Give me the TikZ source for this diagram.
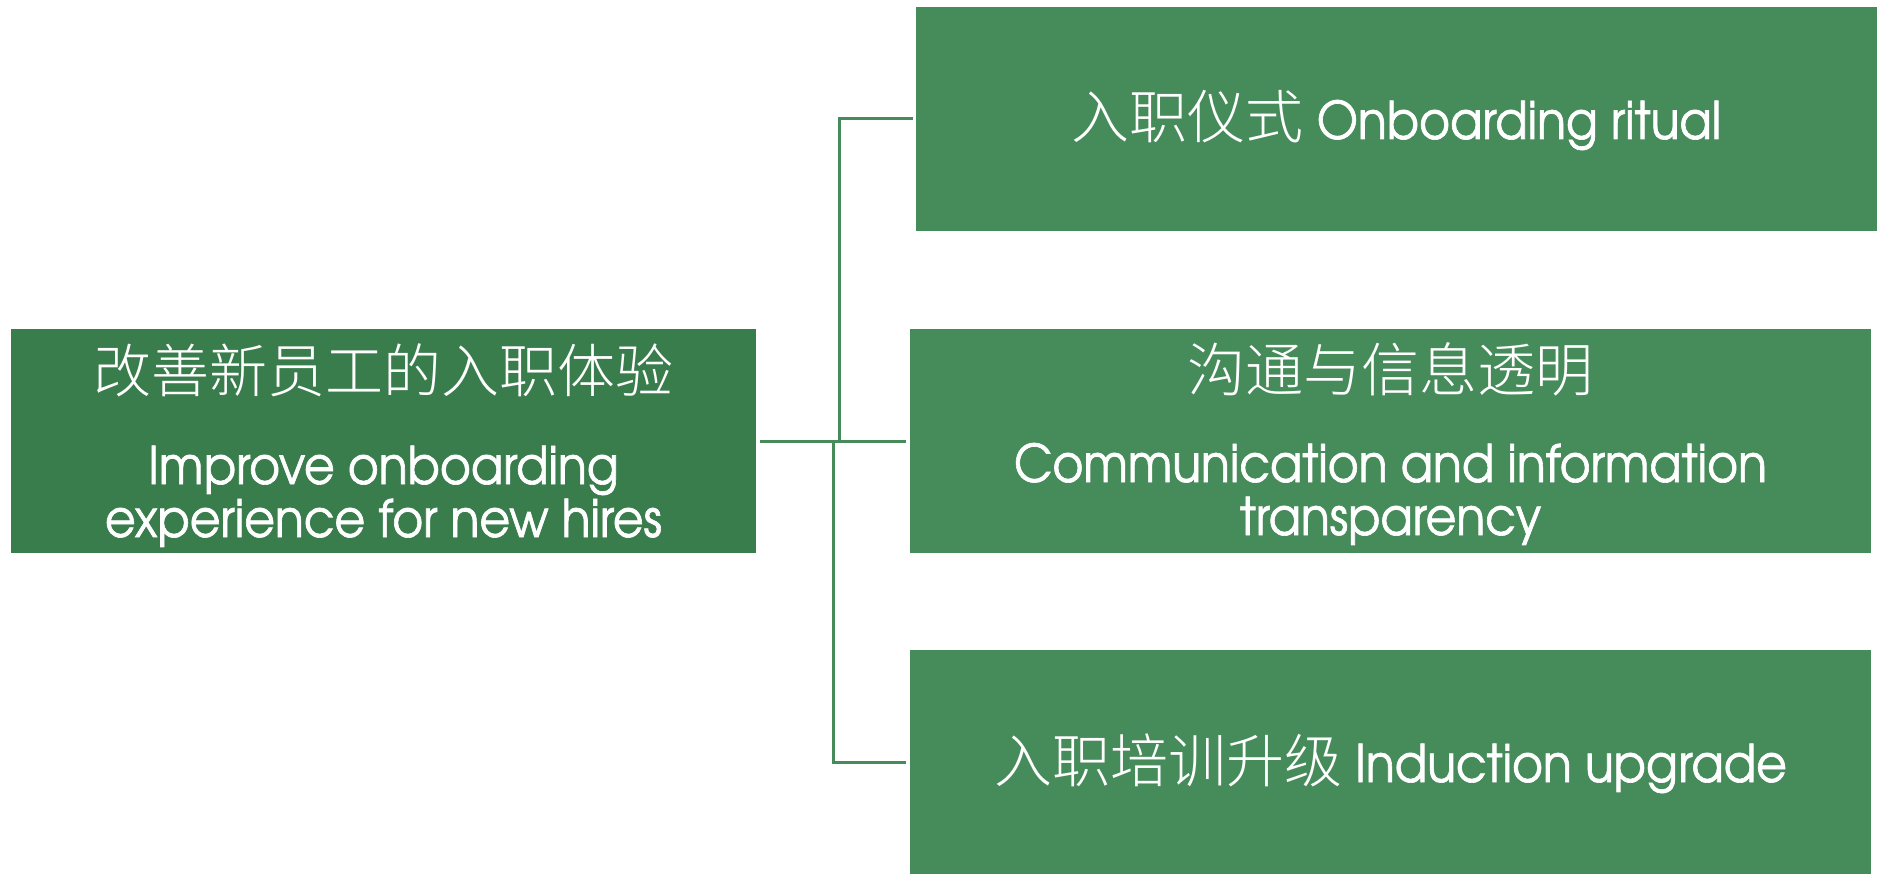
\documentclass[tikz,border=0pt]{standalone}
\usepackage{fontspec}
\usetikzlibrary{calc}
\newfontfamily\cjk{Noto Sans CJK SC Light}
\newfontfamily\latin{texgyreadventor-regular.otf}[FakeStretch=0.91, FakeBold=1.2]
\definecolor{rootgreen}{RGB}{57,125,76}
\definecolor{leafgreen}{RGB}{70,139,90}
\newcommand{\cjksize}{\fontsize{58}{66}\selectfont}
\newcommand{\latsize}{\fontsize{52}{60}\selectfont}
\begin{document}
\begin{tikzpicture}[x=1pt,y=-1pt,
  rootbox/.style={rectangle, fill=rootgreen, inner sep=0pt, minimum width=745pt, minimum height=224pt},
  leafbox/.style={rectangle, fill=leafgreen, inner sep=0pt, minimum width=961pt, minimum height=224pt},
  cjktext/.style={text=white, inner sep=0pt, anchor=center, font=\cjk\cjksize},
  lattext/.style={text=white, inner sep=0pt, anchor=base, font=\latin\latsize},
  mixtext/.style={text=white, inner sep=0pt, anchor=base, font=\latin\latsize},
  link/.style={draw=leafgreen, line width=3pt}]
\useasboundingbox (0,0) rectangle (1877,874);

% boxes
\node[rootbox] (root) at (383.5,441) {};
\node[leafbox] (ritual) at (1396.5,119) {};
\node[leafbox] (comm) at (1390.5,441) {};
\node[leafbox] (induct) at (1390.5,762) {};

% root text
\node[cjktext] (roottitle) at ($(root.center)+(0,-71)$) {改善新员工的入职体验};
\node[lattext] (rootl1) at ($(root.center)+(0,43)$) {Improve onboarding};
\node[lattext] (rootl2) at ($(root.center)+(0,96)$) {experience for new hires};

% leaf texts
\node[mixtext] (ritualtext) at ($(ritual.center)+(0,20)$)
  {{\cjk\cjksize 入职仪式} Onboarding ritual};
\node[cjktext] (commtitle) at ($(comm.center)+(0,-72)$) {沟通与信息透明};
\node[lattext] (comml1) at ($(comm.center)+(0,41)$) {Communication and information};
\node[lattext] (comml2) at ($(comm.center)+(0,94)$) {transparency};
\node[mixtext] (inducttext) at ($(induct.center)+(0,20)$)
  {{\cjk\cjksize 入职培训升级} Induction upgrade};

% connectors
\coordinate (jup) at (839,441);
\coordinate (jdown) at (833,441);
\draw[link, shorten <=4pt, shorten >=4pt] (root.east) -- (comm.west);
\draw[link, shorten >=3pt] (jup) |- (ritual.west);
\draw[link, shorten >=4pt] (jdown) |- (induct.west);
\end{tikzpicture}
\end{document}
